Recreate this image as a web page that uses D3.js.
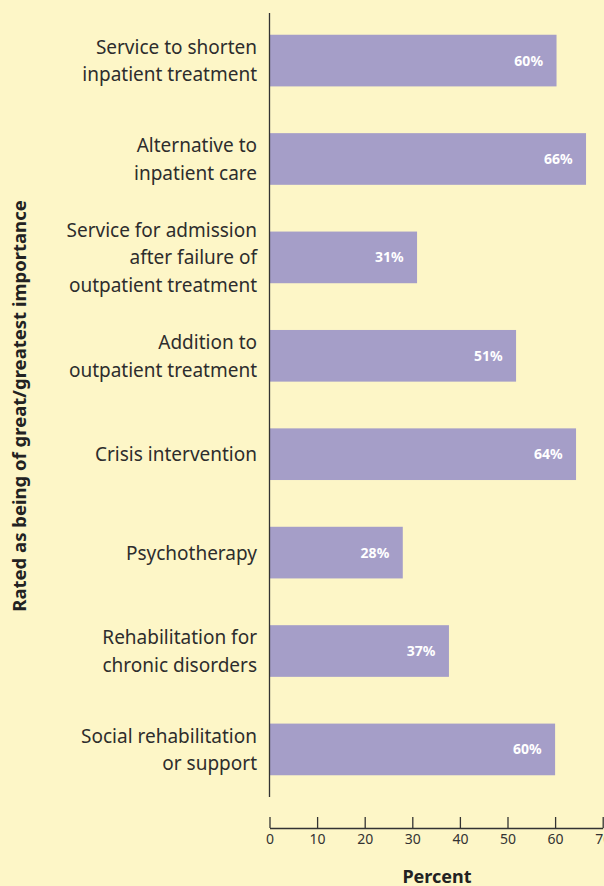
<!DOCTYPE html>
<html>
<head>
<meta charset="utf-8">
<script src="https://cdn.jsdelivr.net/npm/d3@7"></script>
<style>
  html, body { margin: 0; padding: 0; background: #fdf6c7; }
  svg { display: block; }
</style>
</head>
<body>
<div id="chart"></div>
<script>
// categories (each line of the label is a separate string)
const categories = [
    ["Service to shorten", "inpatient treatment"],
    ["Alternative to", "inpatient care"],
    ["Service for admission", "after failure of", "outpatient treatment"],
    ["Addition to", "outpatient treatment"],
    ["Crisis intervention"],
    ["Psychotherapy"],
    ["Rehabilitation for", "chronic disorders"],
    ["Social rehabilitation", "or support"]
]
// bar lengths as measured, printed labels as shown
const values = [60.3, 66.5, 31.0, 51.8, 64.4, 28.0, 37.7, 60.0]
const valueLabels = ["60%", "66%", "31%", "51%", "64%", "28%", "37%", "60%"]
const xTicks = [0, 10, 20, 30, 40, 50, 60, 70]

const width = 604
const height = 886
const ink = '#333333'
const font = '"Noto Sans", "Open Sans", sans-serif'

const svg = d3.select('#chart')
    .append('svg')
    .attr('width', width)
    .attr('height', height)

svg.append('rect')
    .attr('width', width)
    .attr('height', height)
    .attr('fill', '#fdf6c7')

var x = d3.scaleLinear()
    .domain([0, 70])
    .range([269.5, 602.7])

var y = d3.scaleBand()
    .domain(d3.range(categories.length))
    .range([13, 797])
    .paddingInner(0.475)
    .paddingOuter(0.221)

// bars
svg.selectAll('rect.bar')
    .data(values)
    .enter().append('rect')
    .attr('class', 'bar')
    .attr('x', x(0))
    .attr('y', (d, i) => y(i))
    .attr('width', d => x(d) - x(0))
    .attr('height', y.bandwidth())
    .attr('fill', '#a59ec8')

// value labels inside the bars
svg.selectAll('text.val')
    .data(values)
    .enter().append('text')
    .attr('class', 'val')
    .attr('x', d => x(d) - 13.5)
    .attr('y', (d, i) => y(i) + y.bandwidth() / 2 + 5)
    .attr('text-anchor', 'end')
    .attr('font-family', font)
    .attr('font-weight', 'bold')
    .attr('font-size', 14)
    .attr('fill', '#ffffff')
    .text((d, i) => valueLabels[i])

// category labels, right aligned next to the axis
const lineGap = 27.7
svg.selectAll('text.cat')
    .data(categories)
    .enter().append('text')
    .attr('class', 'cat')
    .attr('text-anchor', 'end')
    .attr('font-family', font)
    .attr('font-size', 19)
    .attr('fill', '#2d2d2d')
    .each(function(lines, i) {
        var cy = y(i) + y.bandwidth() / 2
        var first = cy - (lines.length - 1) * lineGap / 2 + 7
        d3.select(this).selectAll('tspan')
            .data(lines)
            .enter().append('tspan')
            .attr('x', 257)
            .attr('y', (l, j) => first + j * lineGap)
            .text(l => l)
    })

// vertical axis line
svg.append('line')
    .attr('x1', x(0))
    .attr('x2', x(0))
    .attr('y1', 13)
    .attr('y2', 797)
    .attr('stroke', ink)
    .attr('stroke-width', 1.3)

// x axis
var xAxis = svg.append('g')
    .attr('transform', 'translate(0,828)')
    .call(d3.axisBottom(x)
        .tickValues(xTicks)
        .tickSizeInner(-11)
        .tickSizeOuter(0)
        .tickPadding(6))

xAxis.select('.domain').attr('stroke', ink).attr('stroke-width', 1.3)
xAxis.selectAll('.tick line').attr('stroke', ink).attr('stroke-width', 1.3)
xAxis.selectAll('.tick text')
    .attr('font-family', font)
    .attr('font-size', 14)
    .attr('fill', ink)

svg.append('text')
    .attr('x', 437)
    .attr('y', 883)
    .attr('text-anchor', 'middle')
    .attr('font-family', font)
    .attr('font-weight', 'bold')
    .attr('font-size', 18)
    .attr('fill', '#222222')
    .text('Percent')

svg.append('text')
    .attr('transform', 'translate(26,406) rotate(-90)')
    .attr('text-anchor', 'middle')
    .attr('font-family', font)
    .attr('font-weight', 'bold')
    .attr('font-size', 18.5)
    .attr('fill', '#222222')
    .text('Rated as being of great/greatest importance')
</script>
</body>
</html>
